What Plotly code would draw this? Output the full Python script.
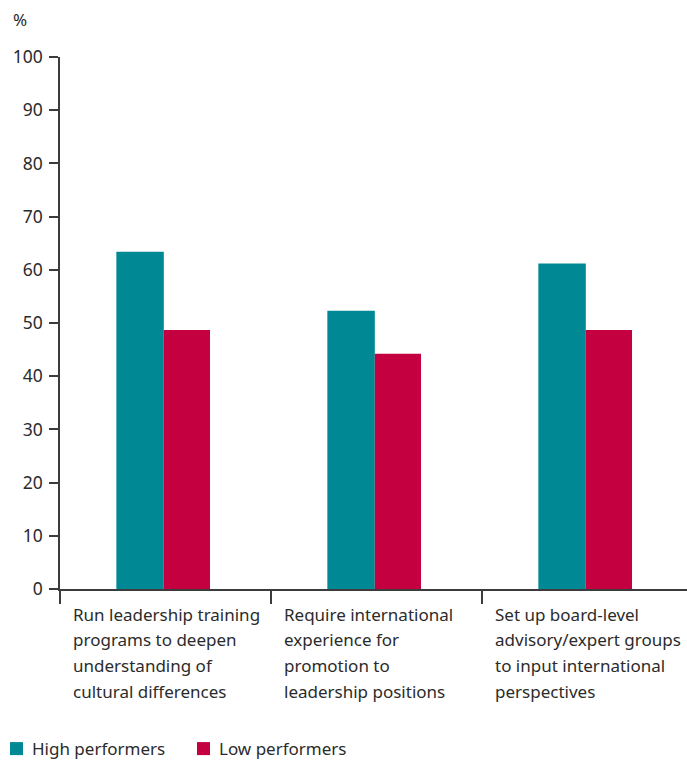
import plotly.graph_objects as go

# Share of respondents (%) for each leadership practice
categories = [
    ["Run leadership training", "programs to deepen", "understanding of", "cultural differences"],
    ["Require international", "experience for", "promotion to", "leadership positions"],
    ["Set up board-level", "advisory/expert groups", "to input international", "perspectives"],
]
series_names = ["High performers", "Low performers"]
high_performers = [63.4, 52.3, 61.2]
low_performers = [48.7, 44.2, 48.7]
y_ticks = [0, 10, 20, 30, 40, 50, 60, 70, 80, 90, 100]

TEAL = "#008994"
CRIMSON = "#C40040"
INK = "#2b2b2b"
AXIS = "#3c3c3c"
FONT = "Noto Sans"

W, H = 687, 760
plot_l, plot_r = 60, 687
plot_t, plot_b = 57.3, 589
slot_px = 211.0
x_pos = list(range(len(categories)))


def px_x(px):
    return (px - plot_l) / (plot_r - plot_l)


def px_y(py):
    return (plot_b - py) / (plot_b - plot_t)


fig = go.Figure()
fig.add_trace(go.Bar(x=x_pos, y=high_performers, name=series_names[0],
                     width=0.225, offset=-0.233, showlegend=False,
                     marker=dict(color=TEAL, line=dict(width=0))))
fig.add_trace(go.Bar(x=x_pos, y=low_performers, name=series_names[1],
                     width=0.219, offset=-0.008, showlegend=False,
                     marker=dict(color=CRIMSON, line=dict(width=0))))

# multi-line category labels, left aligned inside each category slot
annotations = []
for ci, lines in enumerate(categories):
    for li, line in enumerate(lines):
        annotations.append(dict(
            x=ci - 0.5, y=0, xref="x", yref="y", xanchor="left", yanchor="middle",
            xshift=11, yshift=-(25 + 25.7 * li), text=line, showarrow=False,
            font=dict(family=FONT, size=17, color=INK), align="left"))

# unit label above the value axis
annotations.append(dict(
    x=px_x(11), y=px_y(20), xref="paper", yref="paper", text="%", showarrow=False,
    xanchor="left", yanchor="middle", font=dict(family=FONT, size=17, color=INK)))

# legend: colour swatch followed by series name
shapes = []
legend_items = [(series_names[0], TEAL, 10), (series_names[1], CRIMSON, 197)]
for name, color, left in legend_items:
    shapes.append(dict(type="rect", xref="paper", yref="paper",
                       x0=px_x(left), x1=px_x(left + 13),
                       y0=px_y(755), y1=px_y(742),
                       fillcolor=color, line=dict(width=0)))
    annotations.append(dict(
        x=px_x(left + 20), y=px_y(748.5), xref="paper", yref="paper", text=name,
        showarrow=False, xanchor="left", yanchor="middle",
        font=dict(family=FONT, size=17, color=INK)))

fig.update_layout(
    width=W, height=H,
    margin=dict(l=plot_l, r=W - plot_r, t=plot_t, b=H - plot_b, pad=0),
    paper_bgcolor="white", plot_bgcolor="white",
    barmode="overlay",
    font=dict(family=FONT, size=17, color=INK),
    showlegend=False,
    annotations=annotations,
    shapes=shapes,
    xaxis=dict(range=[-0.5, -0.5 + (plot_r - plot_l) / slot_px],
               tickmode="array", tickvals=[-0.5, 0.5, 1.5], ticktext=["", "", ""],
               ticks="outside", ticklen=13, tickwidth=1.5, tickcolor=AXIS,
               showline=True, linecolor=AXIS, linewidth=1.5,
               showgrid=False, zeroline=False, fixedrange=True),
    yaxis=dict(range=[0, 100], tickmode="array", tickvals=y_ticks,
               ticks="outside", ticklen=9, tickwidth=1.5, tickcolor=AXIS,
               ticklabelstandoff=3,
               showline=True, linecolor=AXIS, linewidth=1.5,
               showgrid=False, zeroline=False, fixedrange=True,
               tickfont=dict(family=FONT, size=17.5, color=INK)),
)

fig.write_html("out.html")
